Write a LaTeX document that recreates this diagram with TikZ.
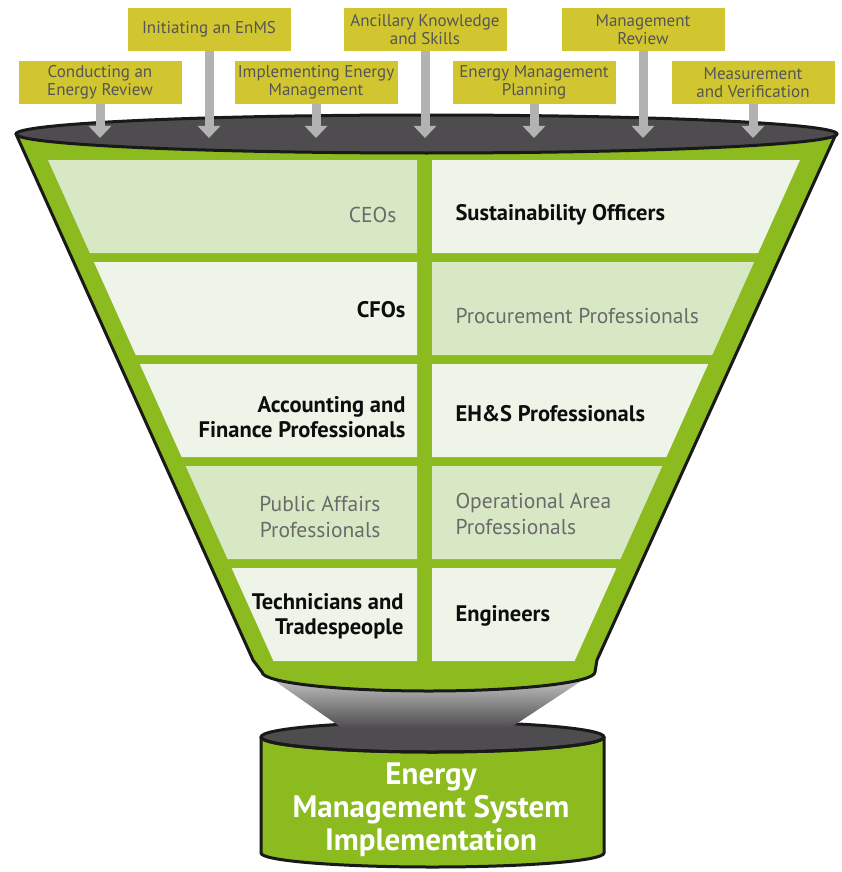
\documentclass[tikz,border=0pt]{standalone}
\usepackage{fontspec}
\setmainfont{PT Sans}
\usetikzlibrary{arrows.meta}
\definecolor{tabyellow}{HTML}{D1C62F}
\definecolor{labgray}{HTML}{555557}
\definecolor{arrgray}{HTML}{B2B2B2}
\definecolor{rimgray}{HTML}{4E4C4E}
\definecolor{neckgray}{HTML}{D2D2D2}
\definecolor{funnelgreen}{HTML}{8BBB1F}
\definecolor{celldark}{HTML}{D8E8C5}
\definecolor{celllight}{HTML}{EEF4E7}
\definecolor{txtgray}{HTML}{6A6A6A}
\tikzset{Tab/.style={fill=tabyellow,text=labgray,align=center,minimum width=163pt,minimum height=43pt,inner sep=0pt,font=\fontsize{17}{18.5}\selectfont}}
\tikzset{Arr/.style={draw=arrgray,line width=9pt,-{Triangle[width=22pt,length=12pt]}}}
\tikzset{Rim/.style={draw=black!90,line width=3pt}}
\tikzset{Bold/.style={text=black!95,font=\bfseries\fontsize{22.5}{25.5}\selectfont}}
\tikzset{Thin/.style={text=txtgray,font=\fontsize{21.5}{25.5}\selectfont}}

\begin{document}
\begin{tikzpicture}[x=1pt,y=-1pt]
  \useasboundingbox (0,0) rectangle (841,872);
  \fill[white] (0,0) rectangle (841,872);

  % base cylinder
  \fill[funnelgreen] (261,737) -- (261,853) arc[start angle=180,end angle=360,x radius=171.5pt,y radius=14pt] -- (604,737) -- cycle;
  \draw[Rim] (261,737) -- (261,853) arc[start angle=180,end angle=360,x radius=171.5pt,y radius=14pt] -- (604,737);
  \draw[Rim,fill=rimgray] (432.5,737) ellipse[x radius=171.5pt,y radius=15pt];
  \shade[top color=neckgray,bottom color=rimgray] (262,672) -- (342,728) -- (510,728) -- (595,672) -- cycle;
  \draw[Rim] (261,737) arc[start angle=180,end angle=360,x radius=171.5pt,y radius=15pt];
  \node[white,align=center,font=\bfseries\fontsize{31}{33}\selectfont] (EnMS) at (431,810) {Energy\\Management System\\Implementation};

  % funnel body and cells
  \fill[funnelgreen] (16,134) -- (253,660) -- (262,672) arc[start angle=180,end angle=360,x radius=166.5pt,y radius=19pt] -- (597,660) -- (836,134) -- cycle;
  \foreach \t/\cl/\cr in {160/celldark/celllight,262/celllight/celldark,364/celllight/celllight,466/celldark/celldark,568/celllight/celllight}{
    \pgfmathsetmacro\b{\t+93}
    \fill[\cl] ({48+0.45*(\t-160)},\t) -- (417,\t) -- (417,\b) -- ({48+0.45*(\b-160)},\b) -- cycle;
    \fill[\cr] (432,\t) -- ({800-0.45*(\t-160)},\t) -- ({800-0.45*(\b-160)},\b) -- (432,\b) -- cycle;
  }
  \draw[Rim,line join=round] (16,134) -- (253,660) -- (262,672) arc[start angle=180,end angle=360,x radius=166.5pt,y radius=19pt] -- (597,660) -- (836,134);
  \draw[Rim,fill=rimgray] (426.5,134) ellipse[x radius=410.5pt,y radius=19pt];

  \node[Thin,anchor=east,align=right] (L1) at (400,215) {CEOs};
  \node[Bold,anchor=west,align=left] (R1) at (452,215) {Sustainability Officers};
  \node[Bold,anchor=east,align=right] (L2) at (409,310) {CFOs};
  \node[Thin,anchor=west,align=left] (R2) at (452,316) {Procurement Professionals};
  \node[Bold,anchor=east,align=right] (L3) at (409,417) {Accounting and\\Finance Professionals};
  \node[Bold,anchor=west,align=left] (R3) at (452,414) {EH\&S Professionals};
  \node[Thin,anchor=east,align=right] (L4) at (384,517) {Public Affairs\\Professionals};
  \node[Thin,anchor=west,align=left] (R4) at (452,514) {Operational Area\\Professionals};
  \node[Bold,anchor=east,align=right] (L5) at (407,616) {Technicians and\\Tradespeople};
  \node[Bold,anchor=west,align=left] (R5) at (452,616) {Engineers};

  % inputs poured into the funnel
  \node[Tab] (T1) at (100,82.5) {Conducting an\\Energy Review};
  \node[Tab] (T2) at (209,29.5) {Initiating an EnMS};
  \node[Tab] (T3) at (316,82.5) {Implementing Energy\\Management};
  \node[Tab] (T4) at (425,29.5) {Ancillary Knowledge\\and Skills};
  \node[Tab] (T5) at (534,82.5) {Energy Management\\Planning};
  \node[Tab] (T6) at (643,29.5) {Management\\Review};
  \node[Tab] (T7) at (753,82.5) {Measurement\\and Verification};
  \foreach \i/\x in {1/100,2/209,3/316,4/425,5/534,6/643,7/753}{
    \coordinate (A\i) at (\x,138);
    \draw[Arr] (T\i) -- (A\i);
  }
\end{tikzpicture}
\end{document}
